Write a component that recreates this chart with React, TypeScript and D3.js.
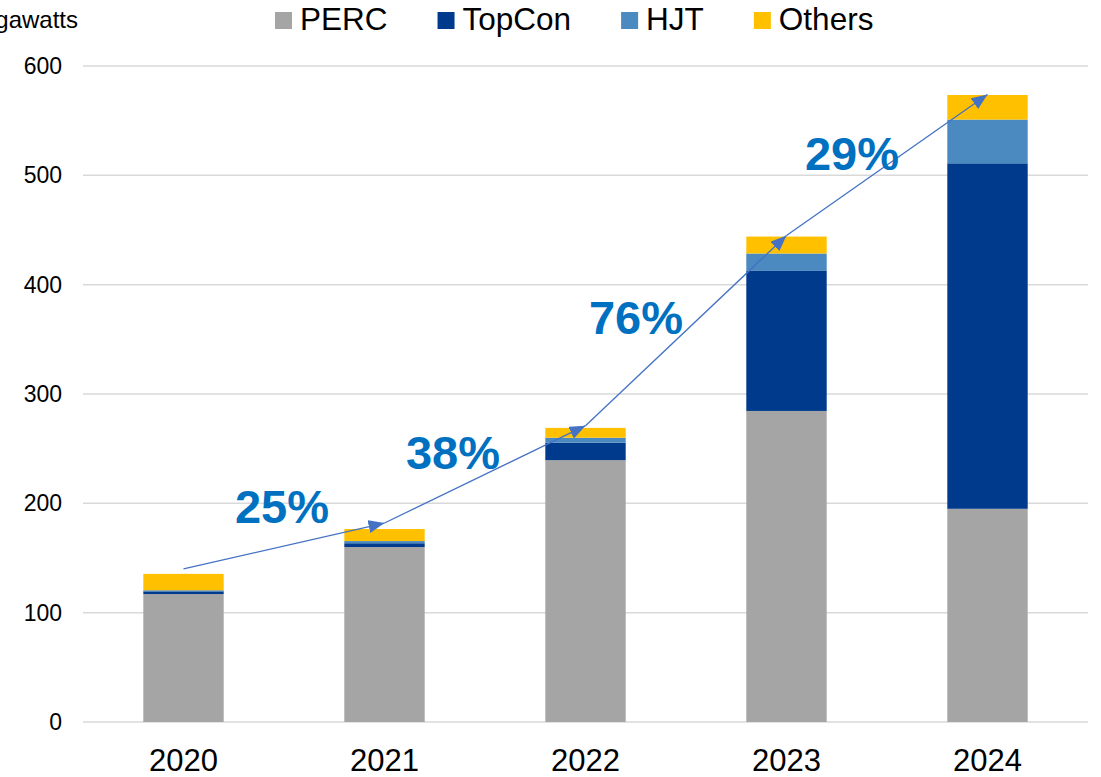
import React, { useEffect, useRef } from "react";
import * as d3 from "d3";

const years = ["2020", "2021", "2022", "2023", "2024"];
const perc = [117, 160, 239.5, 284.5, 195];
const topcon = [2.5, 3.5, 16, 128.5, 316];
const hjt = [1, 2, 4.5, 15.5, 40];
const others = [15, 11, 9, 15.5, 22.5];
const seriesNames = ["PERC", "TopCon", "HJT", "Others"];
const yTicks = [0, 100, 200, 300, 400, 500, 600];
// arrow chain end points (GW) and growth rates between years
const arrowValues = [140, 182, 271, 445, 574];
const growth = ["25%", "38%", "76%", "29%"];

const colors = ["#A5A5A5", "#003A8C", "#4A8AC0", "#FFC000"];
const font = "'Liberation Sans', Arial, sans-serif";

const W = 1101;
const H = 777;

export default function App() {
  const ref = useRef<SVGSVGElement>(null);

  useEffect(() => {
    const svg = d3.select(ref.current);
    svg.selectAll("*").remove();

    const x = d3.scaleBand().domain(years).range([83, 1088]).paddingInner(0.6).paddingOuter(0.3);
    const y = d3.scaleLinear().domain([0, 600]).range([722, 66]);

    // gridlines + y labels
    const grid = svg.append("g");
    grid.selectAll("line").data(yTicks).join("line")
      .attr("x1", 83).attr("x2", 1088)
      .attr("y1", d => y(d)).attr("y2", d => y(d))
      .attr("stroke", "#D9D9D9").attr("stroke-width", 1.5);
    grid.selectAll("text").data(yTicks).join("text")
      .attr("x", 62).attr("y", d => y(d) + 8)
      .attr("text-anchor", "end")
      .attr("font-family", font).attr("font-size", 23).attr("fill", "#000")
      .text(d => d);

    // axis title, cut at the left edge as in the source
    svg.append("text")
      .attr("x", 78).attr("y", 28)
      .attr("text-anchor", "end")
      .attr("font-family", font).attr("font-size", 24).attr("fill", "#000")
      .text("Gigawatts");

    // stacked bars
    const table = years.map((yr, i) => ({
      year: yr, PERC: perc[i], TopCon: topcon[i], HJT: hjt[i], Others: others[i],
    }));
    const stacked = d3.stack<any>().keys(seriesNames)(table);
    svg.append("g").selectAll("g").data(stacked).join("g")
      .attr("fill", (_, i) => colors[i])
      .selectAll("rect").data(d => d).join("rect")
      .attr("x", d => x(d.data.year)!)
      .attr("width", x.bandwidth())
      .attr("y", d => y(d[1]))
      .attr("height", d => y(d[0]) - y(d[1]));

    // x labels
    svg.append("g").selectAll("text").data(years).join("text")
      .attr("x", d => x(d)! + x.bandwidth() / 2)
      .attr("y", 771)
      .attr("text-anchor", "middle")
      .attr("font-family", font).attr("font-size", 31).attr("fill", "#000")
      .text(d => d);

    // arrows
    const defs = svg.append("defs");
    defs.append("marker")
      .attr("id", "arrowHead")
      .attr("markerUnits", "userSpaceOnUse")
      .attr("markerWidth", 18).attr("markerHeight", 14)
      .attr("refX", 16).attr("refY", 6.5)
      .attr("orient", "auto")
      .append("path").attr("d", "M0,0 L16,6.5 L0,13 Z").attr("fill", "#4472C4");

    const pts = arrowValues.map((v, i) => [x(years[i])! + x.bandwidth() / 2, y(v)] as [number, number]);
    const segs = d3.pairs(pts);
    svg.append("g").selectAll("line").data(segs).join("line")
      .attr("x1", d => d[0][0]).attr("y1", d => d[0][1])
      .attr("x2", d => d[1][0]).attr("y2", d => d[1][1])
      .attr("stroke", "#4472C4").attr("stroke-width", 1.3)
      .attr("marker-end", "url(#arrowHead)");

    const labelShift = [[-2, -23], [-32, -5], [-50, 3], [-35, 5]];
    svg.append("g").selectAll("text").data(segs).join("text")
      .attr("x", (d, i) => (d[0][0] + d[1][0]) / 2 + labelShift[i][0])
      .attr("y", (d, i) => (d[0][1] + d[1][1]) / 2 + labelShift[i][1])
      .attr("text-anchor", "middle")
      .attr("font-family", font).attr("font-size", 47).attr("font-weight", "bold")
      .attr("fill", "#0070C0")
      .text((_, i) => growth[i]);

    // legend
    const legend = svg.append("g");
    let lx = 275;
    seriesNames.forEach((name, i) => {
      legend.append("rect").attr("x", lx).attr("y", 12).attr("width", 17).attr("height", 17).attr("fill", colors[i]);
      const t = legend.append("text")
        .attr("x", lx + 25).attr("y", 30)
        .attr("font-family", font).attr("font-size", 31.5).attr("fill", "#000")
        .text(name);
      const w = (t.node() as SVGTextElement).getComputedTextLength();
      lx += 25 + w + 50;
    });
  }, []);

  return (
    <svg ref={ref} width={W} height={H}
      style={{ position: "absolute", left: 0, top: 0, background: "#fff" }} />
  );
}
